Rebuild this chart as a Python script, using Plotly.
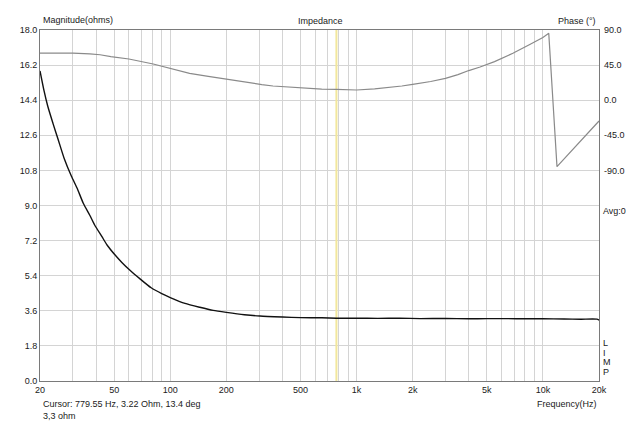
import plotly.graph_objects as go

# ---- data ----
mag_freq = [20, 21, 22, 23.5, 25, 27, 29.5, 31.6, 34.2, 37, 39.3, 43, 46, 50.6, 55, 60.8,
            68.6, 79, 90, 100, 120, 144, 170, 200, 250, 303, 400, 500, 650, 780, 1000,
            1300, 1700, 2200, 3000, 4000, 5000, 6500, 8000, 10000, 13000, 16000, 19500, 20000]
mag_ohm = [15.9, 14.9, 14.1, 13.2, 12.4, 11.4, 10.5, 9.9, 9.1, 8.5, 8.0, 7.4, 6.95, 6.46, 6.08, 5.68,
           5.25, 4.78, 4.48, 4.28, 3.98, 3.78, 3.62, 3.52, 3.40, 3.33, 3.28, 3.25, 3.24, 3.22, 3.22,
           3.21, 3.22, 3.20, 3.21, 3.19, 3.20, 3.20, 3.19, 3.19, 3.18, 3.17, 3.17, 3.12]

ph_freq = [20, 25, 30, 37, 42, 48, 60, 81, 100, 127, 160, 200, 230, 270, 310, 356, 420, 500, 570,
           650, 780, 900, 1000, 1250, 1500, 1750, 2000, 2500, 3000, 3500, 4000, 4600, 5500, 6900,
           8500, 10000, 10750, 11900, 20000]
ph_deg = [60.3, 60.6, 60.4, 59.3, 58.3, 55.8, 52.8, 46.4, 41.0, 34.5, 30.5, 26.8, 24.3, 22.0, 20.0,
          18.2, 17.0, 15.8, 15.0, 14.3, 13.9, 13.3, 13.1, 14.4, 16.1, 18.2, 20.4, 24.0, 28.0, 32.8,
          38.0, 42.5, 49.5, 60.1, 71.5, 80.5, 85.7, -85.2, -26.7]

cursor_freq = 779.55

x_grid = [20, 30, 40, 50, 60, 70, 80, 90, 100, 200, 300, 400, 500, 600, 700, 800, 900,
          1000, 2000, 3000, 4000, 5000, 6000, 7000, 8000, 9000, 10000, 20000]
x_labels = {20: "20", 50: "50", 100: "100", 200: "200", 500: "500", 1000: "1k",
            2000: "2k", 5000: "5k", 10000: "10k", 20000: "20k"}
y_ticks = [0, 1.8, 3.6, 5.4, 7.2, 9.0, 10.8, 12.6, 14.4, 16.2, 18.0]
ph_ticks = [90, 45, 0, -45, -90]

FONT = "Liberation Sans, Arial, sans-serif"
TXT = "#1a1a1a"
GRID = "#d4d4d4"
AX = "#7a7a7a"

fig = go.Figure()
fig.add_trace(go.Scatter(x=[cursor_freq, cursor_freq], y=[0, 18], mode="lines",
                         line=dict(color="#f2e79c", width=2), hoverinfo="skip", showlegend=False))
fig.add_trace(go.Scatter(x=ph_freq, y=ph_deg, mode="lines", yaxis="y2",
                         line=dict(color="#8a8a8a", width=1.2), showlegend=False))
fig.add_trace(go.Scatter(x=mag_freq, y=mag_ohm, mode="lines",
                         line=dict(color="#111111", width=1.4, shape="spline", smoothing=0.6),
                         showlegend=False))

fig.update_layout(
    width=640, height=423,
    margin=dict(l=40, r=41, t=30, b=42),
    paper_bgcolor="white", plot_bgcolor="white",
    font=dict(family=FONT, size=9, color=TXT),
    xaxis=dict(type="log", range=[1.30103, 4.30103],
               tickvals=x_grid, ticktext=[x_labels.get(v, "") for v in x_grid],
               showgrid=True, gridcolor=GRID, gridwidth=1,
               showline=True, linecolor=AX, linewidth=1, mirror=True,
               ticks="", zeroline=False, tickfont=dict(size=9, color=TXT)),
    yaxis=dict(range=[0, 18], tickvals=y_ticks, ticktext=["%.1f" % v for v in y_ticks],
               showgrid=True, gridcolor=GRID, gridwidth=1,
               showline=True, linecolor=AX, linewidth=1, mirror=True,
               ticks="", zeroline=False, tickfont=dict(size=9, color=TXT)),
    yaxis2=dict(range=[-360, 90], overlaying="y", side="right",
                tickvals=ph_ticks, ticktext=["%.1f" % v for v in ph_ticks],
                showgrid=False, zeroline=False, showline=False, ticks="",
                ticklabelstandoff=4,
                tickfont=dict(size=9, color=TXT)),
)

def px(xp, yp):
    return (xp - 40) / 559.0, (381 - yp) / 351.0

def note(text, xp, yp, anchor):
    x, y = px(xp, yp)
    fig.add_annotation(text=text, x=x, y=y, xref="paper", yref="paper",
                       xanchor=anchor, yanchor="middle", showarrow=False,
                       font=dict(family=FONT, size=9, color=TXT))

note("Magnitude(ohms)", 41, 20, "left")
note("Impedance", 320, 21, "center")
note("Phase (°)", 598, 21, "right")
note("Avg:0", 601, 211, "left")
for i, ch in enumerate(["L", "I", "M", "P"]):
    note(ch, 601, 343 + i * 9.7, "left")
note("Cursor: 779.55 Hz, 3.22 Ohm, 13.4 deg", 41, 404, "left")
note("3,3 ohm", 41, 416, "left")
note("Frequency(Hz)", 599, 404, "right")

fig.write_html("out.html")
